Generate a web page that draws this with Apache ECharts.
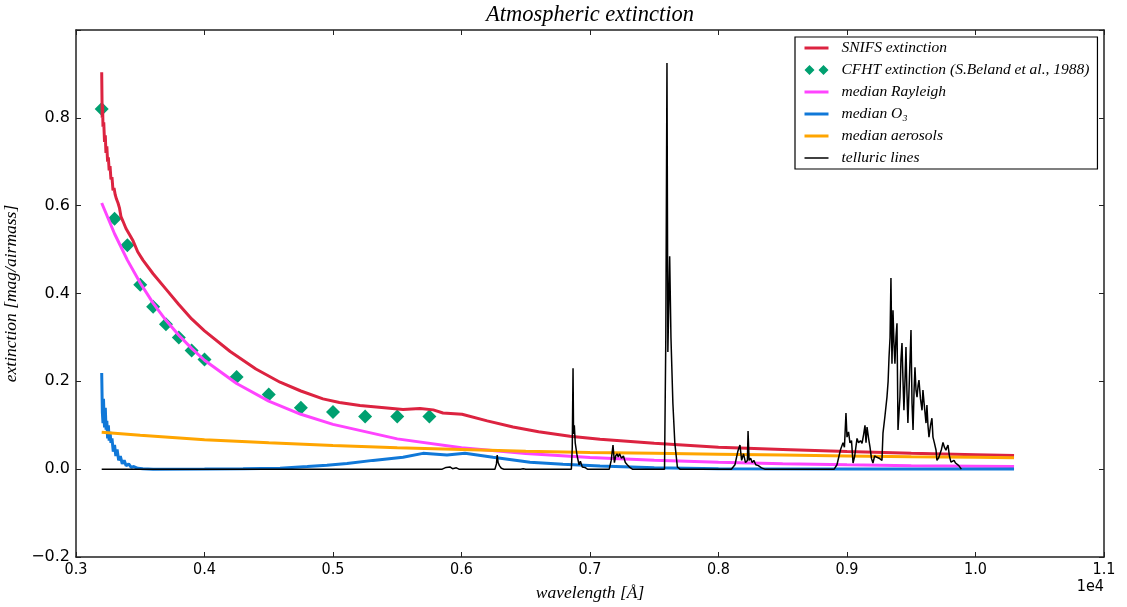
<!DOCTYPE html>
<html>
<head>
<meta charset="utf-8">
<script src="https://cdn.jsdelivr.net/npm/echarts@6/dist/echarts.min.js"></script>
<style>html,body{margin:0;padding:0;background:#fff}#c{width:1127px;height:607px}</style>
</head>
<body>
<div id="c"></div>
<script>
// x values are wavelengths in Angstrom
const xTicks = [3000,4000,5000,6000,7000,8000,9000,10000,11000];
const yTicks = [-0.2,0,0.2,0.4,0.6,0.8];

const snifs = [[3200,0.904],[3204,0.80],[3207,0.83],[3210,0.78],[3216,0.79],[3222,0.745],[3228,0.76],[3233,0.72],[3240,0.735],[3246,0.70],[3252,0.71],[3258,0.68],[3265,0.69],[3272,0.66],[3280,0.665],[3288,0.635],[3296,0.64],[3305,0.625],[3315,0.615],[3327,0.606],[3338,0.595],[3350,0.575],[3365,0.565],[3389,0.548],[3415,0.535],[3444,0.52],[3480,0.495],[3521,0.476],[3600,0.445],[3700,0.41],[3800,0.375],[3900,0.342],[4000,0.315],[4200,0.268],[4400,0.228],[4588,0.198],[4750,0.178],[4922,0.160],[5050,0.152],[5210,0.145],[5400,0.140],[5545,0.136],[5677,0.138],[5780,0.135],[5856,0.128],[6004,0.125],[6200,0.110],[6401,0.096],[6600,0.085],[6844,0.075],[7078,0.068],[7500,0.059],[8000,0.050],[8500,0.045],[9000,0.040],[9500,0.036],[10000,0.033],[10300,0.031]];

const cfhtX = [3200,3300,3400,3500,3600,3700,3800,3900,4000,4250,4500,4750,5000,5250,5500,5750];
const cfhtY = [0.82,0.57,0.51,0.42,0.37,0.33,0.30,0.27,0.25,0.21,0.17,0.14,0.13,0.12,0.12,0.12];

const rayleigh = [[3200,0.606],[3300,0.536],[3400,0.476],[3500,0.424],[3600,0.378],[3700,0.339],[3800,0.305],[3900,0.275],[4000,0.248],[4250,0.195],[4500,0.155],[4750,0.125],[5000,0.102],[5500,0.069],[6000,0.049],[6500,0.0356],[7000,0.0265],[7500,0.0201],[8000,0.0155],[8500,0.0122],[9000,0.0098],[9500,0.0079],[10000,0.0065],[10300,0.0058]];

const ozone = [[3200,0.219],[3205,0.13],[3210,0.105],[3214,0.16],[3218,0.12],[3222,0.095],[3228,0.14],[3234,0.09],[3240,0.11],[3246,0.07],[3252,0.10],[3258,0.065],[3265,0.085],[3272,0.06],[3280,0.07],[3290,0.04],[3300,0.055],[3310,0.03],[3320,0.045],[3332,0.02],[3345,0.03],[3360,0.012],[3375,0.02],[3390,0.008],[3410,0.012],[3430,0.004],[3450,0.006],[3480,0.002],[3520,0.001],[3600,0],[4000,0.0005],[4300,0.001],[4588,0.002],[4800,0.006],[4953,0.009],[5109,0.013],[5311,0.02],[5545,0.027],[5700,0.036],[5887,0.032],[6027,0.036],[6245,0.027],[6533,0.016],[6790,0.011],[7078,0.007],[7500,0.003],[8000,0.001],[9000,0.0005],[10300,0.0003]];

const aerosols = [[3200,0.084],[3500,0.077],[4000,0.067],[4500,0.06],[5000,0.054],[5500,0.049],[6000,0.045],[6500,0.041],[7000,0.038],[7500,0.036],[8000,0.034],[8500,0.032],[9000,0.030],[9500,0.028],[10000,0.027],[10300,0.026]];

const telluric = [[3200,0],[5850,0],[5880,0.004],[5895,0.002],[5910,0.005],[5930,0.001],[5960,0.003],[5980,0],
[6260,0],[6272,0.012],[6278,0.032],[6285,0.015],[6295,0.008],[6310,0.002],[6330,0],
[6460,0],[6470,0.003],[6480,0.001],[6490,0.003],[6500,0],
[6855,0],[6862,0.05],[6868,0.23],[6872,0.08],[6878,0.10],[6885,0.06],[6900,0.03],[6915,0.01],[6925,0.018],[6940,0.005],[6960,0.004],[6980,0],
[7150,0],[7165,0.02],[7179,0.055],[7190,0.015],[7200,0.03],[7210,0.035],[7220,0.028],[7230,0.035],[7245,0.025],[7260,0.03],[7275,0.015],[7290,0.01],[7310,0.004],[7330,0],
[7580,0],[7590,0.3],[7599,0.925],[7606,0.267],[7612,0.267],[7620,0.485],[7630,0.3],[7645,0.15],[7660,0.06],[7680,0.005],[7700,0],
[8100,0],[8128,0.01],[8150,0.04],[8167,0.055],[8180,0.02],[8195,0.035],[8210,0.015],[8225,0.02],[8230,0.087],[8238,0.02],[8250,0.025],[8262,0.015],[8275,0.02],[8290,0.01],[8310,0.008],[8335,0.003],[8360,0],
[8900,0],[8922,0.01],[8950,0.045],[8969,0.06],[8980,0.05],[8992,0.128],[9000,0.073],[9012,0.085],[9023,0.06],[9035,0.065],[9047,0.014],[9060,0.03],[9078,0.07],[9090,0.06],[9105,0.065],[9117,0.059],[9130,0.08],[9140,0.10],[9148,0.06],[9156,0.096],[9168,0.07],[9179,0.05],[9190,0.025],[9202,0.014],[9215,0.03],[9233,0.027],[9250,0.025],[9272,0.02],[9280,0.082],[9295,0.12],[9311,0.164],[9320,0.2],[9327,0.255],[9335,0.3],[9342,0.435],[9350,0.24],[9358,0.362],[9365,0.29],[9373,0.24],[9381,0.3],[9389,0.332],[9397,0.089],[9405,0.13],[9412,0.164],[9420,0.25],[9428,0.287],[9436,0.2],[9443,0.134],[9451,0.2],[9459,0.278],[9466,0.18],[9474,0.105],[9485,0.2],[9498,0.317],[9506,0.15],[9514,0.089],[9522,0.18],[9529,0.232],[9537,0.18],[9545,0.164],[9553,0.19],[9560,0.203],[9572,0.16],[9584,0.134],[9591,0.18],[9600,0.15],[9615,0.105],[9622,0.146],[9630,0.1],[9638,0.073],[9650,0.1],[9661,0.116],[9669,0.073],[9680,0.06],[9693,0.043],[9700,0.02],[9712,0.025],[9724,0.027],[9735,0.045],[9747,0.061],[9758,0.05],[9770,0.043],[9778,0.05],[9786,0.055],[9797,0.03],[9809,0.016],[9820,0.02],[9833,0.02],[9845,0.014],[9856,0.014],[9870,0.008],[9880,0.01],[9890,0]];

const labels = {
  title: 'Atmospheric extinction',
  xName: 'wavelength [Å]',
  yName: 'extinction [mag/airmass]',
  scale: '1e4',
  snifs: 'SNIFS extinction',
  cfht: 'CFHT extinction (S.Beland et al., 1988)',
  ray: 'median Rayleigh',
  o3: 'median O₃',
  aer: 'median aerosols',
  tell: 'telluric lines'
};

const colors = {snifs: '#dc2340', cfht: '#00a070', ray: '#ff44ff', o3: '#1078d8', aer: '#ffa500', tell: '#000000'};

const serif = '"Liberation Serif", "DejaVu Serif", serif';
const narrow = '"DejaVu Sans Condensed", "Liberation Sans", sans-serif';
const axisCommon = {
  type: 'value', splitLine: {show: false},
  axisLine: {show: true, onZero: false, lineStyle: {color: '#222', width: 1.5}},
  axisTick: {show: true, inside: true, length: 5, lineStyle: {color: '#222', width: 1}}
};
const hideSym = {opacity: 0, color: 'transparent', borderWidth: 0};
const legLine = (c, w) => ({name: '', itemStyle: hideSym, lineStyle: {color: c, width: w}});

const chart = echarts.init(document.getElementById('c'), null, {renderer: 'canvas'});
chart.setOption({
  animation: false,
  backgroundColor: '#fff',
  title: {text: labels.title, left: 585, top: -1, textAlign: 'center',
    textStyle: {fontFamily: serif, fontStyle: 'italic', fontWeight: 'normal', fontSize: 22.5, color: '#000'}},
  grid: {left: 76, right: 23, top: 30, bottom: 50, containLabel: false, outerBoundsMode: 'none'},
  xAxis: [
    Object.assign({}, axisCommon, {min: 3000, max: 11000, interval: 1000, position: 'bottom',
      name: labels.xName, nameLocation: 'middle', nameGap: 27,
      nameTextStyle: {fontFamily: serif, fontStyle: 'italic', fontSize: 17.5, color: '#000'},
      axisLabel: {show: true, margin: 5, fontFamily: narrow, fontSize: 16, color: '#000',
        formatter: v => (v / 1e4).toFixed(1)}}),
    Object.assign({}, axisCommon, {min: 3000, max: 11000, interval: 1000, position: 'top', axisLabel: {show: false}})
  ],
  yAxis: [
    Object.assign({}, axisCommon, {min: -0.2, max: 1.0, interval: 0.2, position: 'left',
      name: labels.yName, nameLocation: 'middle', nameGap: 46, nameRotate: 90,
      nameTextStyle: {fontFamily: serif, fontStyle: 'italic', fontSize: 17.5, color: '#000'},
      axisLabel: {show: true, margin: 6, fontFamily: '"DejaVu Sans", sans-serif', fontSize: 16, color: '#000',
        formatter: v => {
          const r = Math.round(v * 10) / 10;
          if (yTicks.indexOf(r) < 0) return '';
          return (r < 0 ? '\u2212' : '') + Math.abs(r).toFixed(1);
        }}}),
    Object.assign({}, axisCommon, {min: -0.2, max: 1.0, interval: 0.2, position: 'right', axisLabel: {show: false}})
  ],
  legend: {
    orient: 'vertical', left: 795, top: 37, padding: [3, 8, 3, 8], itemGap: 6,
    itemWidth: 24, itemHeight: 14,
    backgroundColor: '#fff', borderColor: '#000', borderWidth: 1.2, borderRadius: 0,
    textStyle: {fontFamily: serif, fontStyle: 'italic', fontSize: 15.5, color: '#000', padding: [0, 0, 0, 8]},
    data: [
      Object.assign(legLine(colors.snifs, 3), {name: labels.snifs}),
      {name: labels.cfht, icon: 'path://M0,5L5,0L10,5L5,10Z M14,5L19,0L24,5L19,10Z'},
      Object.assign(legLine(colors.ray, 3), {name: labels.ray}),
      Object.assign(legLine(colors.o3, 3), {name: labels.o3}),
      Object.assign(legLine(colors.aer, 3), {name: labels.aer}),
      Object.assign(legLine(colors.tell, 1.5), {name: labels.tell})
    ]
  },
  graphic: [
    {type: 'text', right: 23, top: 579, style: {text: labels.scale, fontFamily: narrow, fontSize: 16, fill: '#000'}}
  ],
  series: [
    {name: labels.snifs, type: 'line', data: snifs, showSymbol: false, symbol: 'none', z: 3,
      lineStyle: {color: colors.snifs, width: 3}, itemStyle: {color: colors.snifs}},
    {name: labels.cfht, type: 'scatter', data: cfhtX.map((x, i) => [x, cfhtY[i]]), symbol: 'diamond', symbolSize: 14, z: 2,
      itemStyle: {color: colors.cfht, opacity: 1}},
    {name: labels.ray, type: 'line', data: rayleigh, showSymbol: false, symbol: 'none', z: 3,
      lineStyle: {color: colors.ray, width: 3}, itemStyle: {color: colors.ray}},
    {name: labels.o3, type: 'line', data: ozone, showSymbol: false, symbol: 'none', z: 4,
      lineStyle: {color: colors.o3, width: 3}, itemStyle: {color: colors.o3}},
    {name: labels.aer, type: 'line', data: aerosols, showSymbol: false, symbol: 'none', z: 4,
      lineStyle: {color: colors.aer, width: 3}, itemStyle: {color: colors.aer}},
    {name: labels.tell, type: 'line', data: telluric, showSymbol: false, symbol: 'none', z: 5,
      lineStyle: {color: colors.tell, width: 1.5}, itemStyle: {color: colors.tell}}
  ]
});
</script>
</body>
</html>
